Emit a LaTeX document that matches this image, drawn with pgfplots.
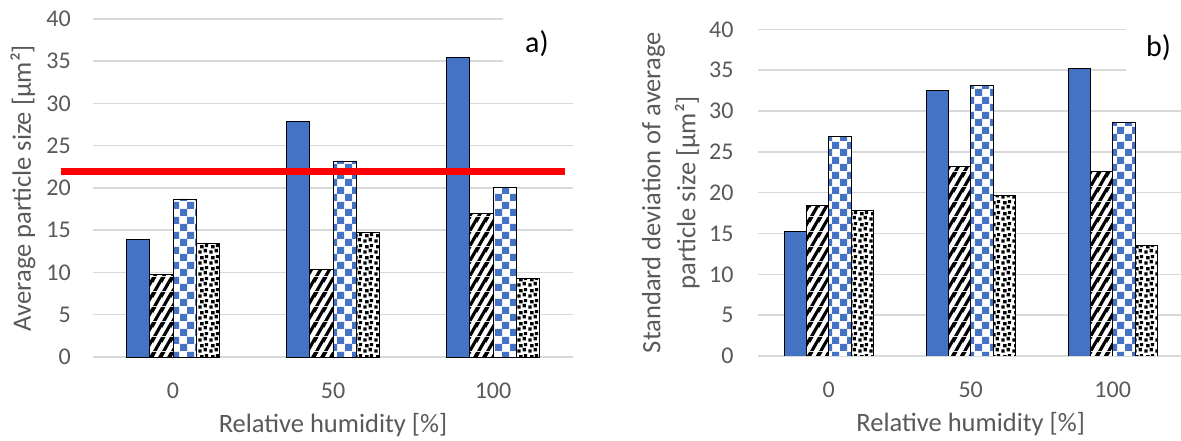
\documentclass[border=0pt]{standalone}
\usepackage{fontspec}
\setmainfont{Carlito}
\usepackage{pgfplots}
\pgfplotsset{compat=1.18}
\usetikzlibrary{patterns}

\definecolor{xblue}{HTML}{4472C4}
\definecolor{txtgray}{HTML}{595959}
\definecolor{gridgray}{HTML}{D9D9D9}

\pgfdeclarepatternformonly{wdiag}{\pgfqpoint{0pt}{0pt}}{\pgfqpoint{9pt}{15pt}}{\pgfqpoint{9pt}{15pt}}{%
  \pgfpathmoveto{\pgfqpoint{0pt}{0pt}}\pgfpathlineto{\pgfqpoint{4pt}{0pt}}\pgfpathlineto{\pgfqpoint{13pt}{15pt}}\pgfpathlineto{\pgfqpoint{9pt}{15pt}}\pgfpathclose
  \pgfpathmoveto{\pgfqpoint{-9pt}{0pt}}\pgfpathlineto{\pgfqpoint{-5pt}{0pt}}\pgfpathlineto{\pgfqpoint{4pt}{15pt}}\pgfpathlineto{\pgfqpoint{0pt}{15pt}}\pgfpathclose
  \pgfusepath{fill}}
\pgfdeclarepatternformonly{checker}{\pgfqpoint{0pt}{0pt}}{\pgfqpoint{15pt}{15pt}}{\pgfqpoint{15pt}{15pt}}{%
  \pgfpathrectangle{\pgfqpoint{0pt}{0pt}}{\pgfqpoint{7.5pt}{7.5pt}}
  \pgfpathrectangle{\pgfqpoint{7.5pt}{7.5pt}}{\pgfqpoint{7.5pt}{7.5pt}}
  \pgfusepath{fill}}
\pgfdeclarepatternformonly{confetti}{\pgfqpoint{0pt}{0pt}}{\pgfqpoint{11pt}{11pt}}{\pgfqpoint{11pt}{11pt}}{%
  \pgfpathrectangle{\pgfqpoint{0.3pt}{0.3pt}}{\pgfqpoint{3.7pt}{3.7pt}}
  \pgfpathrectangle{\pgfqpoint{6pt}{1.8pt}}{\pgfqpoint{3.7pt}{3.7pt}}
  \pgfpathrectangle{\pgfqpoint{2.3pt}{6pt}}{\pgfqpoint{3.7pt}{3.7pt}}
  \pgfpathrectangle{\pgfqpoint{7.6pt}{7.4pt}}{\pgfqpoint{3.4pt}{3.4pt}}
  \pgfusepath{fill}}

\pgfplotsset{
  panel/.style={
    scale only axis,
    anchor=south west,
    xmin=-0.5, xmax=2.5, ymin=0, ymax=40,
    xtick={0,1,2}, xticklabels={0,50,100},
    ytick={0,5,...,40},
    /pgf/number format/assume math mode=true,
    axis line style={draw=none},
    major tick style={draw=none},
    ymajorgrids,
    grid style={gridgray, line width=1.5pt},
    ticklabel style={font=\fontsize{24}{28}\selectfont, text=txtgray, inner sep=0pt},
    xticklabel style={anchor=north, yshift=-21pt},
    label style={font=\fontsize{26.5}{35}\selectfont, text=txtgray},
    xlabel style={at={([yshift=-68pt]axis description cs:0.5,0)}, anchor=center},
    ybar=0pt,
  },
  s1/.style={draw=black, line width=0.9pt, fill=xblue},
  s2/.style={draw=black, line width=0.9pt, preaction={fill=white}, pattern=wdiag, pattern color=black},
  s3/.style={draw=black, line width=0.9pt, preaction={fill=white}, pattern=checker, pattern color=xblue},
  s4/.style={draw=black, line width=0.9pt, preaction={fill=white}, pattern=confetti, pattern color=black},
}

\begin{document}
\begin{tikzpicture}[x=1pt,y=1pt]
\path[use as bounding box] (0,0) rectangle (1181,441);

\begin{axis}[panel,
  at={(93pt,84pt)}, width=480pt, height=338pt,
  bar width=23.3pt, clip=false,
  yticklabel style={anchor=east, xshift=-22pt},
  xlabel={Relative humidity [\%]},
  ylabel={Average particle size [µm²]},
  ylabel style={at={([xshift=-70pt]axis description cs:0,0.5)}, anchor=center},
]
\addplot[s1] coordinates {(0,13.9) (1,27.9) (2,35.5)};
\addplot[s2] coordinates {(0,9.8) (1,10.35) (2,17.0)};
\addplot[s3] coordinates {(0,18.7) (1,23.2) (2,20.1)};
\addplot[s4] coordinates {(0,13.4) (1,14.7) (2,9.3)};
\addplot[red, line width=7pt, forget plot, sharp plot] coordinates {(-0.7,21.9) (2.45,21.9)};
\end{axis}

\begin{axis}[panel,
  at={(757.7pt,85pt)}, width=426pt, height=326.7pt,
  bar width=22.3pt,
  yticklabel style={anchor=east, xshift=-24pt},
  xlabel={Relative humidity [\%]},
  ylabel={Standard deviation of average\\particle size [µm²]},
  ylabel style={at={([xshift=-87pt]axis description cs:0,0.5)}, anchor=center, align=center},
]
\addplot[s1] coordinates {(0,15.3) (1,32.5) (2,35.2)};
\addplot[s2] coordinates {(0,18.4) (1,23.2) (2,22.6)};
\addplot[s3] coordinates {(0,26.9) (1,33.1) (2,28.6)};
\addplot[s4] coordinates {(0,17.8) (1,19.7) (2,13.5)};
\end{axis}

\fill[white] (503,356) rectangle (580,441);
\fill[white] (1126,351) rectangle (1181,441);
\node[anchor=base west, inner sep=0pt, font=\fontsize{30}{36}\selectfont] at (525,388) {a)};
\node[anchor=base west, inner sep=0pt, font=\fontsize{30}{36}\selectfont] at (1146,384) {b)};
\end{tikzpicture}
\end{document}
